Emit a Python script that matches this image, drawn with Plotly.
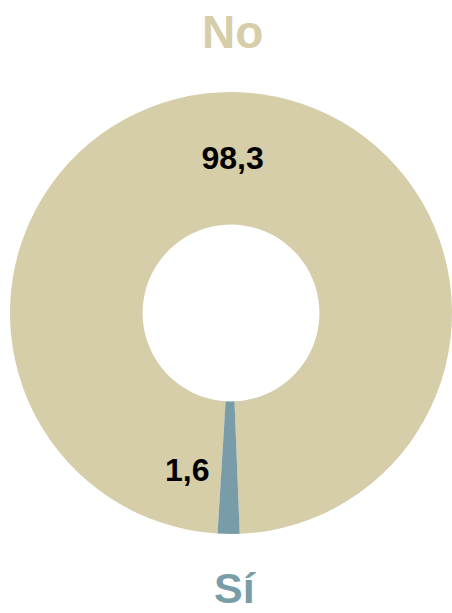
import plotly.graph_objects as go

categories = ["No", "Sí"]
values = [98.3, 1.6]
colors = ["#D6CDA9", "#789CA8"]

W, H = 452, 613

fig = go.Figure(go.Pie(
    labels=categories,
    values=values,
    hole=0.40,
    sort=False,
    direction="clockwise",
    rotation=183.5,
    marker=dict(colors=colors, line=dict(width=0)),
    texttemplate=["<b>%{value:.1f}</b>", ""],
    textposition="inside",
    insidetextorientation="horizontal",
    textfont=dict(family="Liberation Sans", size=32, color="#000000"),
    showlegend=False,
    hoverinfo="label+value",
    domain=dict(x=[10 / W, 1.0], y=[(H - 534) / H, (H - 92) / H]),
))

si_text = f"{values[1]:.1f}".replace(".", ",")

fig.update_layout(
    width=W, height=H,
    margin=dict(l=0, r=0, t=0, b=0),
    paper_bgcolor="white",
    plot_bgcolor="white",
    separators=",.",
    font=dict(family="Liberation Sans"),
    annotations=[
        dict(text="<b>" + categories[0] + "</b>", x=232 / W, y=1 - 32 / H, xref="paper", yref="paper",
             showarrow=False, font=dict(family="Liberation Sans", size=46, color="#D6CDA9"),
             xanchor="center", yanchor="middle"),
        dict(text="<b>" + categories[1] + "</b>", x=235 / W, y=1 - 588 / H, xref="paper", yref="paper",
             showarrow=False, font=dict(family="Liberation Sans", size=43, color="#789CA8"),
             xanchor="center", yanchor="middle"),
        dict(text="<b>" + si_text + "</b>", x=187 / W, y=1 - 470 / H, xref="paper", yref="paper",
             showarrow=False, font=dict(family="Liberation Sans", size=32, color="#000000"),
             xanchor="center", yanchor="middle"),
    ],
)

fig.write_html("out.html", config={"displayModeBar": False},
               post_script="document.body.style.margin='0';document.body.style.overflow='hidden';")
